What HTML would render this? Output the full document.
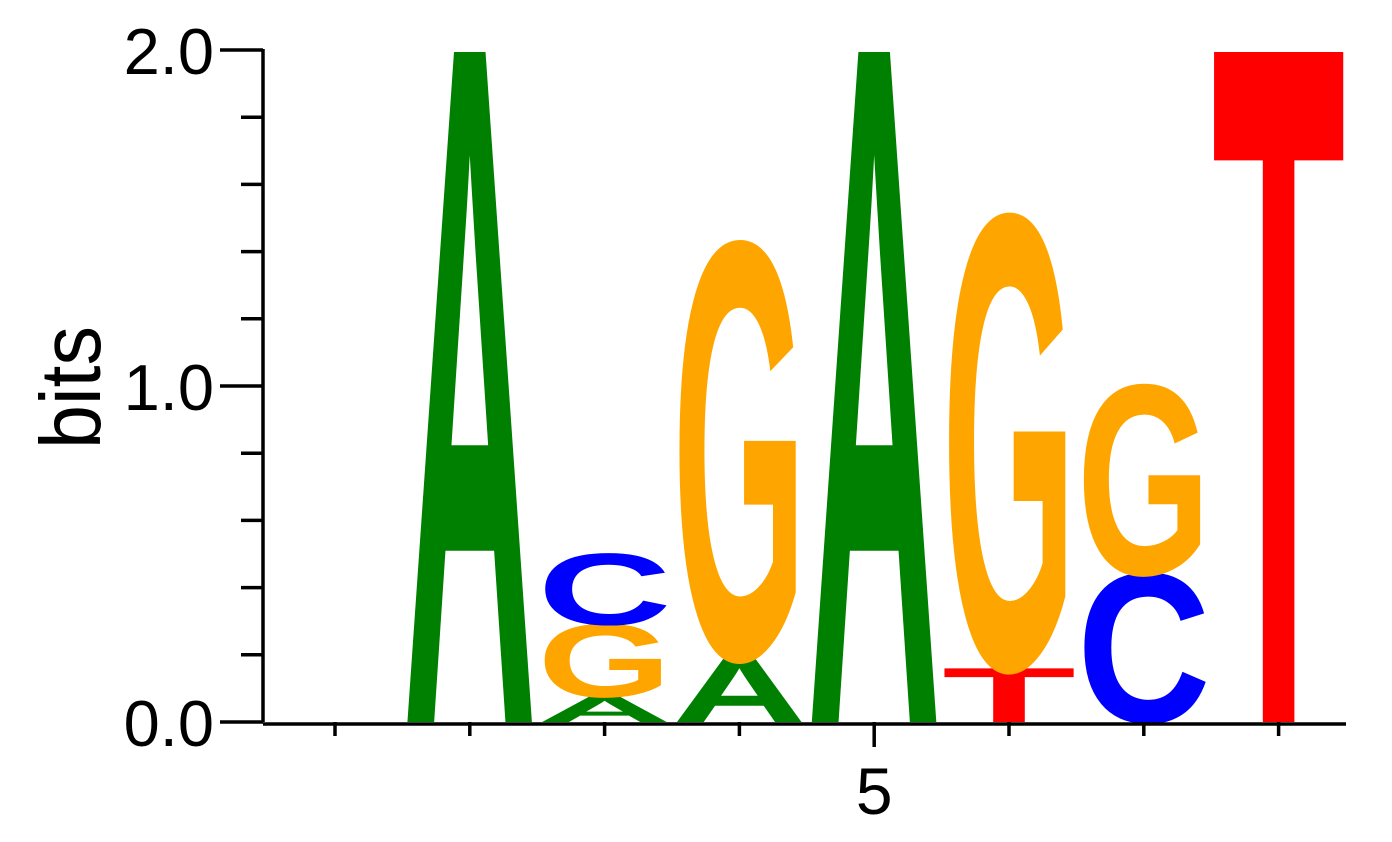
<!DOCTYPE html>
<html><head><meta charset="utf-8"><style>
html,body{margin:0;padding:0;background:#fff;overflow:hidden;width:1392px;height:842px;}
svg{display:block;font-family:"Liberation Sans",sans-serif;}
</style></head><body>
<svg id="chart" width="1392" height="842" viewBox="0 0 1392 842"></svg>
<script>
const positions=[1,2,3,4,5,6,7,8];
const colLetters=[[],["A"],["A","G","C"],["A","G"],["A"],["T","G"],["C","G"],["T"]];
const colHeights=[[],[2.0],[0.075,0.215,0.21],[0.19,1.23],[2.0],[0.16,1.34],[0.44,0.56],[2.0]];
const yTicks=[0,1,2];
const yTickLabels=["0.0","1.0","2.0"];
const xTickLabels=["","","","","5","","",""];
const colors={A:"#008000",C:"#0000ff",G:"#ffa500",T:"#ff0000"};
const NS="http://www.w3.org/2000/svg";
const svg=document.getElementById("chart");
const y0=722,pxPerBit=336,x1=335,dx=134.8;
const ys=v=>y0-v*pxPerBit;
const xs=p=>x1+(p-1)*dx;
function mk(t,a,p){const e=document.createElementNS(NS,t);for(const k in a)e.setAttribute(k,a[k]);(p||svg).appendChild(e);return e;}
positions.forEach((p,i)=>{
  let base=0;
  colLetters[i].forEach((L,j)=>{
    const h=colHeights[i][j];
    const yb=ys(base),H=h*pxPerBit;
    const g=mk("g",{transform:`translate(${xs(p)-67},${yb}) scale(1,${H/69})`});
    
    
    const t=mk("text",{x:0,y:0,"font-size":100,"font-weight":"bold",fill:colors[L],textLength:134,lengthAdjust:"spacingAndGlyphs"},g);
    t.textContent=L;
    base+=h;
  });
});
const ya=mk("line",{x1:263,y1:ys(2)-1,x2:263,y2:y0,stroke:"#000","stroke-width":3.5});


for(let k=0;k<=10;k++){
  const v=k*0.2,major=(k%5===0);
  const tk=mk("line",{x1:major?220:241,y1:ys(v),x2:263,y2:ys(v),stroke:"#000","stroke-width":3.5});
  
  
}
yTicks.forEach((v,i)=>{
  const t=mk("text",{x:214,y:ys(v)+24,"font-size":65,"text-anchor":"end",fill:"#000"});
  
  
  t.textContent=yTickLabels[i];
});
const yt=mk("text",{x:-61,y:0,"font-size":85,fill:"#000",textLength:123,lengthAdjust:"spacingAndGlyphs",transform:"translate(100,388) rotate(-90)"});


yt.textContent="bits";
const xa=mk("line",{x1:263,y1:y0+2,x2:1346,y2:y0+2,stroke:"#000","stroke-width":3.5});


positions.forEach((p,i)=>{
  const tk=mk("line",{x1:xs(p),y1:y0,x2:xs(p),y2:y0+(xTickLabels[i]?25:14),stroke:"#000","stroke-width":3.5});
  
  
  if(xTickLabels[i]){
    const t=mk("text",{x:xs(p),y:814,"font-size":66,"text-anchor":"middle",fill:"#000"});
    
    
    t.textContent=xTickLabels[i];
  }
});
</script>
</body></html>
